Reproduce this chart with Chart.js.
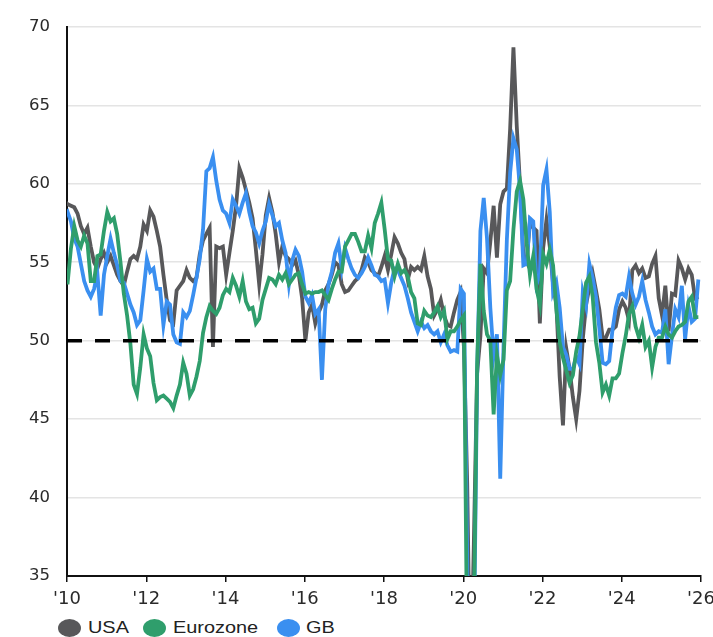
<!DOCTYPE html>
<html lang="en">
<head>
    <meta charset="UTF-8">
    <title>Composite PMI: USA, Eurozone, GB</title>
    <script src="https://cdn.jsdelivr.net/npm/chart.js@4.4.1/dist/chart.umd.min.js"></script>
    <style>
        html, body {
            margin: 0;
            padding: 0;
            background: #ffffff;
        }
        body {
            width: 713px;
            height: 637px;
            position: relative;
            overflow: hidden;
            font-family: 'Liberation Sans', Arial, sans-serif;
        }
        .chart-box {
            position: absolute;
            left: 0;
            top: 0;
            width: 713px;
            height: 612px;
        }
        .legend {
            position: absolute;
            left: 0;
            top: 619px;
            width: 713px;
            height: 20px;
        }
        .legend-dot {
            position: absolute;
            top: 0;
            width: 23px;
            height: 18px;
            border-radius: 50%;
        }
        .legend-text {
            position: absolute;
            top: -1px;
            font-size: 17px;
            line-height: 20px;
            color: #222222;
            transform: scaleX(1.17);
            transform-origin: left center;
            white-space: nowrap;
        }
    </style>
</head>
<body>
    <div class="chart-box">
        <canvas id="pmiChart"></canvas>
    </div>
    <div class="legend" id="legend"></div>

    <script>
        // monthly readings, Jan 2010 .. Jan 2026
        const startYear = 2010;
        const monthShift = -0.8;

        const usa = [
            58.9, 58.7, 58.6, 58.5, 58.1, 57.3, 56.8, 57.2, 56.0, 55.0, 54.6, 55.2, // 2010
            55.6, 55.0, 55.4, 54.8, 54.2, 53.8, 53.5, 54.4, 55.2, 55.4, 55.2, 56.0, // 2011
            57.4, 57.0, 58.3, 57.9, 57.0, 56.0, 54.2, 52.6, 51.3, 51.1, 53.2, 53.5, // 2012
            53.8, 54.5, 54.0, 53.8, 54.0, 55.5, 56.4, 56.8, 57.2, 49.6, 56.0, 55.9, // 2013
            56.0, 54.2, 55.6, 57.0, 58.6, 61.0, 60.4, 59.6, 58.8, 57.8, 55.8, 53.6, // 2014
            55.5, 58.0, 59.1, 58.2, 56.8, 55.0, 56.0, 55.4, 55.2, 54.8, 55.1, 54.2, // 2015
            52.7, 50.0, 51.8, 52.3, 51.1, 51.8, 52.3, 53.2, 53.6, 54.2, 55.0, 54.8, // 2016
            53.6, 53.1, 53.2, 53.5, 53.8, 54.0, 54.5, 55.3, 55.0, 54.5, 54.3, 54.1, // 2017
            54.7, 55.4, 54.5, 55.5, 56.6, 56.2, 55.6, 55.2, 53.9, 54.7, 54.5, 54.7, // 2018
            54.5, 55.4, 54.1, 53.3, 51.6, 52.0, 52.6, 51.6, 51.0, 50.9, 51.8, 52.6, // 2019
            53.1, 49.6, 40.9, 27.0, 37.0, 47.9, 50.3, 54.6, 54.3, 56.3, 58.6, 55.3, // 2020
            58.7, 59.5, 59.7, 63.5, 68.7, 63.7, 59.9, 55.4, 55.0, 57.6, 57.2, 57.0, // 2021
            51.1, 55.9, 57.7, 56.0, 53.6, 52.3, 47.7, 44.6, 49.5, 48.2, 46.4, 45.0, // 2022
            46.8, 50.1, 52.3, 53.4, 54.3, 53.2, 52.0, 50.2, 50.2, 50.7, 50.7, 50.9, // 2023
            52.0, 52.5, 52.1, 51.3, 54.5, 54.8, 54.3, 54.6, 54.0, 54.1, 54.9, 55.4, // 2024
            52.7, 51.6, 53.5, 50.6, 53.0, 52.9, 55.1, 54.6, 53.9, 54.6, 54.2, 52.7, // 2025
            52.8                                                                      // 2026
        ];

        const eurozone = [
            53.7, 53.7, 55.9, 57.3, 56.4, 56.0, 56.7, 56.2, 53.8, 53.8, 55.4, 55.5, // 2010
            57.0, 58.2, 57.6, 57.8, 56.8, 55.0, 53.0, 51.6, 49.8, 47.2, 46.6, 48.3, // 2011
            50.4, 49.5, 49.0, 47.3, 46.2, 46.4, 46.5, 46.3, 46.1, 45.7, 46.5, 47.2, // 2012
            48.6, 47.9, 46.5, 46.9, 47.7, 48.7, 50.5, 51.5, 52.2, 51.9, 51.7, 52.1, // 2013
            52.9, 53.3, 53.1, 54.0, 53.5, 52.8, 53.8, 52.5, 52.0, 52.1, 51.1, 51.4, // 2014
            52.6, 53.3, 54.0, 53.9, 53.6, 54.2, 53.9, 54.3, 53.6, 53.9, 54.2, 54.3, // 2015
            53.6, 53.0, 53.1, 53.0, 53.1, 53.1, 53.2, 52.9, 52.6, 53.3, 53.9, 54.4, // 2016
            54.4, 56.0, 56.4, 56.8, 56.8, 56.3, 55.7, 55.7, 56.7, 55.9, 57.5, 58.1, // 2017
            58.8, 57.1, 55.2, 55.1, 54.1, 54.9, 54.3, 54.5, 54.1, 53.1, 52.7, 51.1, // 2018
            51.0, 51.9, 51.6, 51.5, 51.8, 52.2, 51.5, 51.9, 50.1, 50.6, 50.6, 50.9, // 2019
            51.3, 51.6, 29.7, 13.6, 31.9, 48.5, 54.9, 51.9, 50.4, 50.0, 45.3, 49.1, // 2020
            47.8, 48.8, 53.2, 53.8, 57.1, 59.5, 60.2, 59.0, 56.2, 54.2, 55.4, 53.3, // 2021
            52.3, 55.5, 54.9, 55.8, 54.8, 52.0, 49.9, 48.9, 48.1, 47.3, 47.8, 49.3, // 2022
            50.3, 52.0, 53.7, 54.1, 52.8, 49.9, 48.6, 46.7, 47.2, 46.5, 47.6, 47.6, // 2023
            47.9, 49.2, 50.3, 51.7, 52.2, 50.9, 50.2, 51.0, 49.6, 50.0, 48.3, 49.6, // 2024
            50.2, 50.2, 50.9, 50.4, 50.2, 50.6, 50.9, 51.0, 51.2, 52.5, 52.8, 51.5, // 2025
            51.5                                                                      // 2026
        ];

        const gb = [
            57.9, 58.2, 57.6, 56.5, 56.0, 54.9, 53.8, 53.2, 52.8, 53.3, 54.3, 51.6, // 2010
            54.2, 55.4, 56.5, 55.6, 54.8, 53.8, 53.7, 53.0, 52.3, 51.8, 51.0, 51.3, // 2011
            53.2, 55.2, 54.4, 54.6, 53.3, 53.3, 51.0, 52.5, 52.3, 50.4, 49.9, 49.8, // 2012
            51.8, 51.5, 51.9, 52.9, 54.0, 55.2, 57.1, 60.8, 61.0, 61.7, 60.2, 59.0, // 2013
            58.3, 58.1, 57.5, 59.0, 58.6, 58.1, 58.8, 59.4, 58.2, 57.3, 56.9, 56.2, // 2014
            57.0, 57.6, 58.7, 58.0, 57.3, 57.5, 56.4, 55.6, 53.6, 55.1, 55.8, 55.4, // 2015
            54.4, 52.8, 52.4, 52.9, 51.7, 52.0, 47.5, 52.0, 53.6, 54.4, 55.6, 56.2, // 2016
            54.6, 55.9, 55.2, 54.6, 54.2, 54.0, 54.3, 54.7, 55.3, 54.8, 54.2, 54.1, // 2017
            53.8, 53.9, 52.4, 53.7, 54.6, 54.5, 54.0, 53.5, 52.7, 51.8, 51.2, 50.6, // 2018
            51.2, 50.8, 51.0, 50.6, 50.4, 50.6, 49.9, 50.4, 49.7, 49.3, 49.4, 49.3, // 2019
            53.3, 53.0, 36.0, 13.8, 30.0, 47.7, 57.0, 59.1, 56.5, 52.1, 49.0, 50.4, // 2020
            41.2, 49.6, 56.4, 60.7, 62.9, 62.2, 59.6, 54.8, 54.9, 57.8, 57.6, 53.6, // 2021
            54.2, 59.9, 60.9, 58.2, 53.1, 53.7, 52.1, 49.6, 49.1, 48.2, 48.2, 49.0, // 2022
            48.5, 53.1, 52.2, 54.9, 54.0, 52.8, 50.8, 48.6, 48.5, 48.7, 50.7, 52.1, // 2023
            52.9, 53.0, 52.8, 54.1, 53.0, 52.3, 52.8, 53.8, 52.6, 51.8, 50.9, 50.4, // 2024
            50.6, 50.5, 52.0, 48.5, 50.3, 52.0, 51.5, 53.5, 50.1, 52.2, 51.2, 51.4, // 2025
            53.9                                                                      // 2026
        ];

        const seriesNames = ['USA', 'Eurozone', 'GB'];
        const seriesColors = ['#58585a', '#2f9e6c', '#3a8ff0'];
        const yTicks = [35, 40, 45, 50, 55, 60, 65, 70];
        const xTickYears = [2010, 2012, 2014, 2016, 2018, 2020, 2022, 2024, 2026];
        const threshold = 50;

        const toPoints = arr => arr.map((v, i) => ({ x: startYear + (i + monthShift) / 12, y: v }));
        const lastX = startYear + (usa.length - 1 + monthShift) / 12;

        const seriesData = [usa, eurozone, gb];
        // draw order: Eurozone on top, then GB, then USA
        const drawOrder = [3, 1, 2];

        const datasets = seriesData.map((arr, i) => ({
            label: seriesNames[i],
            data: toPoints(arr),
            borderColor: seriesColors[i],
            backgroundColor: seriesColors[i],
            borderWidth: 3.8,
            pointRadius: 0,
            tension: 0,
            clip: 0,
            order: drawOrder[i]
        }));

        datasets.push({
            label: 'threshold',
            data: [{ x: startYear, y: threshold }, { x: lastX, y: threshold }],
            borderColor: '#000000',
            borderWidth: 3.5,
            borderDash: [15, 13],
            pointRadius: 0,
            clip: 0,
            order: 0
        });

        new Chart(document.getElementById('pmiChart'), {
            type: 'line',
            data: { datasets: datasets },
            options: {
                responsive: true,
                maintainAspectRatio: false,
                animation: false,
                layout: {
                    padding: { top: 17.5, right: 0, bottom: 0, left: 0 }
                },
                plugins: {
                    legend: { display: false },
                    tooltip: { enabled: false }
                },
                scales: {
                    x: {
                        type: 'linear',
                        min: xTickYears[0],
                        max: xTickYears[xTickYears.length - 1],
                        afterBuildTicks: axis => {
                            axis.ticks = xTickYears.map(v => ({ value: v }));
                        },
                        afterFit: axis => {
                            axis.height = 36;
                            axis.paddingRight = 12;
                        },
                        ticks: {
                            color: '#2a2a2a',
                            font: { family: "'DejaVu Sans', sans-serif", size: 18 },
                            padding: 7,
                            maxRotation: 0,
                            callback: v => "'" + String(v).slice(2)
                        },
                        grid: {
                            drawOnChartArea: false,
                            drawTicks: true,
                            tickLength: 6,
                            color: '#111111',
                            lineWidth: 1.5
                        },
                        border: { color: '#111111', width: 2 }
                    },
                    y: {
                        min: yTicks[0],
                        max: yTicks[yTicks.length - 1],
                        afterBuildTicks: axis => {
                            axis.ticks = yTicks.map(v => ({ value: v }));
                        },
                        afterFit: axis => { axis.width = 67; },
                        ticks: {
                            color: '#2a2a2a',
                            font: { family: "'DejaVu Sans', sans-serif", size: 16.5 },
                            padding: 17
                        },
                        grid: {
                            color: '#e4e4e4',
                            lineWidth: 1.5,
                            drawTicks: false
                        },
                        border: { color: '#111111', width: 2 }
                    }
                }
            }
        });

        // legend below the plot
        const legendDotLefts = [58, 143, 277];
        const legendTextLefts = [88, 173, 306];
        const legendBox = document.getElementById('legend');
        seriesNames.forEach((name, i) => {
            const dot = document.createElement('span');
            dot.className = 'legend-dot';
            dot.style.left = legendDotLefts[i] + 'px';
            dot.style.background = seriesColors[i];
            const text = document.createElement('span');
            text.className = 'legend-text';
            text.style.left = legendTextLefts[i] + 'px';
            text.textContent = name;
            legendBox.appendChild(dot);
            legendBox.appendChild(text);
        });
    </script>
</body>
</html>
